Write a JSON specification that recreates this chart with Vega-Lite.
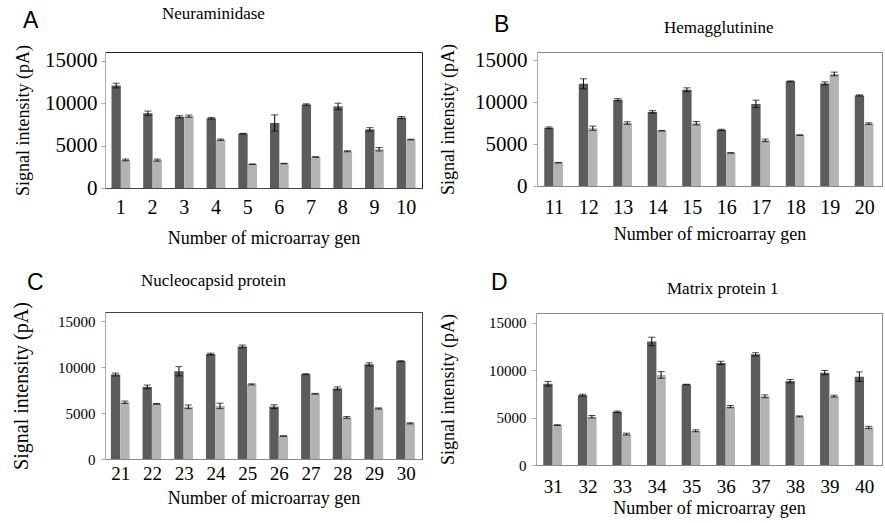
{
  "$schema": "https://vega.github.io/schema/vega-lite/v6.json",
  "background": "white",
  "padding": {"left": 11, "top": 4, "right": 0, "bottom": 0},
  "config": {
    "view": {"strokeWidth": 1},
    "axis": {"labelFont": "Liberation Serif", "titleFont": "Liberation Serif", "titleFontWeight": "normal", "labelColor": "#000", "titleColor": "#000", "grid": false},
    "title": {"font": "Liberation Serif", "fontWeight": "normal", "color": "#000"},
    "bar": {"stroke": null}
  },
  "data": {"values": [
    {"p":"A","g":1,"s":"a","v":12050,"lo":11780,"hi":12320},{"p":"A","g":1,"s":"b","v":3300,"lo":3200,"hi":3400},
    {"p":"A","g":2,"s":"a","v":8800,"lo":8550,"hi":9050},{"p":"A","g":2,"s":"b","v":3280,"lo":3160,"hi":3400},
    {"p":"A","g":3,"s":"a","v":8380,"lo":8250,"hi":8510},{"p":"A","g":3,"s":"b","v":8450,"lo":8320,"hi":8580},
    {"p":"A","g":4,"s":"a","v":8200,"lo":8100,"hi":8300},{"p":"A","g":4,"s":"b","v":5680,"lo":5600,"hi":5760},
    {"p":"A","g":5,"s":"a","v":6400,"lo":6370,"hi":6430},{"p":"A","g":5,"s":"b","v":2800,"lo":2770,"hi":2830},
    {"p":"A","g":6,"s":"a","v":7650,"lo":6700,"hi":8600},{"p":"A","g":6,"s":"b","v":2880,"lo":2850,"hi":2910},
    {"p":"A","g":7,"s":"a","v":9820,"lo":9740,"hi":9900},{"p":"A","g":7,"s":"b","v":3650,"lo":3620,"hi":3680},
    {"p":"A","g":8,"s":"a","v":9600,"lo":9220,"hi":9980},{"p":"A","g":8,"s":"b","v":4320,"lo":4260,"hi":4380},
    {"p":"A","g":9,"s":"a","v":6900,"lo":6700,"hi":7100},{"p":"A","g":9,"s":"b","v":4560,"lo":4360,"hi":4760},
    {"p":"A","g":10,"s":"a","v":8280,"lo":8160,"hi":8400},{"p":"A","g":10,"s":"b","v":5700,"lo":5660,"hi":5740},
    {"p":"B","g":11,"s":"a","v":6950,"lo":6850,"hi":7050},{"p":"B","g":11,"s":"b","v":2780,"lo":2750,"hi":2810},
    {"p":"B","g":12,"s":"a","v":12200,"lo":11600,"hi":12800},{"p":"B","g":12,"s":"b","v":6900,"lo":6650,"hi":7150},
    {"p":"B","g":13,"s":"a","v":10300,"lo":10170,"hi":10430},{"p":"B","g":13,"s":"b","v":7520,"lo":7370,"hi":7670},
    {"p":"B","g":14,"s":"a","v":8850,"lo":8700,"hi":9000},{"p":"B","g":14,"s":"b","v":6600,"lo":6560,"hi":6640},
    {"p":"B","g":15,"s":"a","v":11500,"lo":11280,"hi":11720},{"p":"B","g":15,"s":"b","v":7500,"lo":7300,"hi":7700},
    {"p":"B","g":16,"s":"a","v":6700,"lo":6620,"hi":6780},{"p":"B","g":16,"s":"b","v":3950,"lo":3920,"hi":3980},
    {"p":"B","g":17,"s":"a","v":9800,"lo":9350,"hi":10250},{"p":"B","g":17,"s":"b","v":5450,"lo":5300,"hi":5600},
    {"p":"B","g":18,"s":"a","v":12500,"lo":12450,"hi":12550},{"p":"B","g":18,"s":"b","v":6080,"lo":6050,"hi":6110},
    {"p":"B","g":19,"s":"a","v":12250,"lo":12070,"hi":12430},{"p":"B","g":19,"s":"b","v":13380,"lo":13160,"hi":13600},
    {"p":"B","g":20,"s":"a","v":10820,"lo":10760,"hi":10880},{"p":"B","g":20,"s":"b","v":7450,"lo":7350,"hi":7550},
    {"p":"C","g":21,"s":"a","v":9200,"lo":9050,"hi":9350},{"p":"C","g":21,"s":"b","v":6180,"lo":6050,"hi":6310},
    {"p":"C","g":22,"s":"a","v":7850,"lo":7650,"hi":8050},{"p":"C","g":22,"s":"b","v":6000,"lo":5960,"hi":6040},
    {"p":"C","g":23,"s":"a","v":9550,"lo":9050,"hi":10050},{"p":"C","g":23,"s":"b","v":5680,"lo":5480,"hi":5880},
    {"p":"C","g":24,"s":"a","v":11420,"lo":11320,"hi":11520},{"p":"C","g":24,"s":"b","v":5780,"lo":5480,"hi":6080},
    {"p":"C","g":25,"s":"a","v":12250,"lo":12100,"hi":12400},{"p":"C","g":25,"s":"b","v":8120,"lo":8060,"hi":8180},
    {"p":"C","g":26,"s":"a","v":5700,"lo":5500,"hi":5900},{"p":"C","g":26,"s":"b","v":2500,"lo":2470,"hi":2530},
    {"p":"C","g":27,"s":"a","v":9230,"lo":9180,"hi":9280},{"p":"C","g":27,"s":"b","v":7100,"lo":7060,"hi":7140},
    {"p":"C","g":28,"s":"a","v":7680,"lo":7510,"hi":7850},{"p":"C","g":28,"s":"b","v":4520,"lo":4420,"hi":4620},
    {"p":"C","g":29,"s":"a","v":10300,"lo":10130,"hi":10470},{"p":"C","g":29,"s":"b","v":5500,"lo":5440,"hi":5560},
    {"p":"C","g":30,"s":"a","v":10650,"lo":10600,"hi":10700},{"p":"C","g":30,"s":"b","v":3880,"lo":3820,"hi":3940},
    {"p":"D","g":31,"s":"a","v":8550,"lo":8300,"hi":8800},{"p":"D","g":31,"s":"b","v":4200,"lo":4160,"hi":4240},
    {"p":"D","g":32,"s":"a","v":7350,"lo":7250,"hi":7450},{"p":"D","g":32,"s":"b","v":5080,"lo":4950,"hi":5210},
    {"p":"D","g":33,"s":"a","v":5600,"lo":5520,"hi":5680},{"p":"D","g":33,"s":"b","v":3250,"lo":3150,"hi":3350},
    {"p":"D","g":34,"s":"a","v":13000,"lo":12550,"hi":13450},{"p":"D","g":34,"s":"b","v":9480,"lo":9130,"hi":9830},
    {"p":"D","g":35,"s":"a","v":8470,"lo":8440,"hi":8500},{"p":"D","g":35,"s":"b","v":3600,"lo":3500,"hi":3700},
    {"p":"D","g":36,"s":"a","v":10750,"lo":10580,"hi":10920},{"p":"D","g":36,"s":"b","v":6150,"lo":6030,"hi":6270},
    {"p":"D","g":37,"s":"a","v":11650,"lo":11480,"hi":11820},{"p":"D","g":37,"s":"b","v":7230,"lo":7080,"hi":7380},
    {"p":"D","g":38,"s":"a","v":8830,"lo":8650,"hi":9010},{"p":"D","g":38,"s":"b","v":5120,"lo":5070,"hi":5170},
    {"p":"D","g":39,"s":"a","v":9720,"lo":9490,"hi":9950},{"p":"D","g":39,"s":"b","v":7250,"lo":7150,"hi":7350},
    {"p":"D","g":40,"s":"a","v":9300,"lo":8800,"hi":9800},{"p":"D","g":40,"s":"b","v":3950,"lo":3830,"hi":4070}
  ]},
  "columns": 2,
  "align": "none",
  "spacing": {"row": 23, "column": 16},
  "concat": [
      {"title": {"text": "A", "anchor": "start", "frame": "bounds", "font": "Liberation Sans", "fontSize": 23, "dx": 9, "dy": 33},
       "vconcat": [{
        "width": 317, "height": 136,
        "title": {"text": "Neuraminidase", "anchor": "start", "frame": "group", "fontSize": 17, "dx": 57, "offset": 22},
        "view": {"stroke": "#222"},
        "transform": [{"filter": "datum.p == 'A'"}],
        "encoding": {
          "x": {"field": "g", "type": "ordinal", "scale": {"paddingInner": 0.41, "paddingOuter": 0.205}, "axis": {"title": "Number of microarray gen", "labelAngle": 0, "labelFontSize": 20, "titleFontSize": 18, "ticks": false, "labelPadding": 9, "titlePadding": 12, "domainColor": "#444"}},
          "xOffset": {"field": "s", "scale": {"paddingInner": 0, "paddingOuter": 0}}
        },
        "layer": [
          {"mark": {"type": "bar"}, "encoding": {"y": {"field": "v", "type": "quantitative", "scale": {"domain": [0, 15000]}, "axis": {"title": "Signal intensity (pA)", "values": [0, 5000, 10000, 15000], "format": "d", "labelFont": "Liberation Serif", "titleFont": "Liberation Serif", "labelFontSize": 21, "titleFontSize": 18, "tickSize": 4, "labelPadding": 4, "titlePadding": 12, "domainColor": "#aaa", "tickColor": "#aaa"}}, "color": {"field": "s", "scale": {"domain": ["a", "b"], "range": ["#5c5c5c", "#b3b3b3"]}, "legend": null}}},
          {"mark": {"type": "rule", "color": "#000", "strokeWidth": 1}, "encoding": {"y": {"field": "lo", "type": "quantitative", "axis": {"title": "Signal intensity (pA)", "values": [0, 5000, 10000, 15000], "format": "d", "labelFont": "Liberation Serif", "titleFont": "Liberation Serif", "labelFontSize": 21, "titleFontSize": 18, "tickSize": 4, "labelPadding": 4, "titlePadding": 12, "domainColor": "#aaa", "tickColor": "#aaa"}}, "y2": {"field": "hi"}}},
          {"mark": {"type": "tick", "color": "#000", "thickness": 1, "size": 7}, "encoding": {"y": {"field": "lo", "type": "quantitative", "axis": {"title": "Signal intensity (pA)", "values": [0, 5000, 10000, 15000], "format": "d", "labelFont": "Liberation Serif", "titleFont": "Liberation Serif", "labelFontSize": 21, "titleFontSize": 18, "tickSize": 4, "labelPadding": 4, "titlePadding": 12, "domainColor": "#aaa", "tickColor": "#aaa"}}}},
          {"mark": {"type": "tick", "color": "#000", "thickness": 1, "size": 7}, "encoding": {"y": {"field": "hi", "type": "quantitative", "axis": {"title": "Signal intensity (pA)", "values": [0, 5000, 10000, 15000], "format": "d", "labelFont": "Liberation Serif", "titleFont": "Liberation Serif", "labelFontSize": 21, "titleFontSize": 18, "tickSize": 4, "labelPadding": 4, "titlePadding": 12, "domainColor": "#aaa", "tickColor": "#aaa"}}}}
        ]
      }]},
      {"title": {"text": [" ", "B"], "lineHeight": 6, "anchor": "start", "frame": "bounds", "font": "Liberation Sans", "fontSize": 23, "dx": 55, "dy": 23},
       "vconcat": [{
        "width": 345, "height": 134,
        "title": {"text": "Hemagglutinine", "anchor": "start", "frame": "group", "fontSize": 17, "dx": 127, "offset": 7},
        "view": {"stroke": "#888"},
        "transform": [{"filter": "datum.p == 'B'"}],
        "encoding": {
          "x": {"field": "g", "type": "ordinal", "scale": {"paddingInner": 0.42, "paddingOuter": 0.21}, "axis": {"title": "Number of microarray gen", "labelAngle": 0, "labelFontSize": 20, "titleFontSize": 18, "ticks": false, "labelPadding": 11, "titlePadding": 8, "domainColor": "#888"}},
          "xOffset": {"field": "s", "scale": {"paddingInner": 0, "paddingOuter": 0}}
        },
        "layer": [
          {"mark": {"type": "bar"}, "encoding": {"y": {"field": "v", "type": "quantitative", "scale": {"domain": [0, 15000]}, "axis": {"title": "Signal intensity (pA)", "values": [0, 5000, 10000, 15000], "format": "d", "labelFont": "Liberation Serif", "titleFont": "Liberation Serif", "labelFontSize": 21, "titleFontSize": 18, "tickSize": 4, "labelPadding": 6, "titlePadding": 17, "domainColor": "#aaa", "tickColor": "#aaa"}}, "color": {"field": "s", "scale": {"domain": ["a", "b"], "range": ["#5c5c5c", "#b3b3b3"]}, "legend": null}}},
          {"mark": {"type": "rule", "color": "#000", "strokeWidth": 1}, "encoding": {"y": {"field": "lo", "type": "quantitative", "axis": {"title": "Signal intensity (pA)", "values": [0, 5000, 10000, 15000], "format": "d", "labelFont": "Liberation Serif", "titleFont": "Liberation Serif", "labelFontSize": 21, "titleFontSize": 18, "tickSize": 4, "labelPadding": 6, "titlePadding": 17, "domainColor": "#aaa", "tickColor": "#aaa"}}, "y2": {"field": "hi"}}},
          {"mark": {"type": "tick", "color": "#000", "thickness": 1, "size": 7}, "encoding": {"y": {"field": "lo", "type": "quantitative", "axis": {"title": "Signal intensity (pA)", "values": [0, 5000, 10000, 15000], "format": "d", "labelFont": "Liberation Serif", "titleFont": "Liberation Serif", "labelFontSize": 21, "titleFontSize": 18, "tickSize": 4, "labelPadding": 6, "titlePadding": 17, "domainColor": "#aaa", "tickColor": "#aaa"}}}},
          {"mark": {"type": "tick", "color": "#000", "thickness": 1, "size": 7}, "encoding": {"y": {"field": "hi", "type": "quantitative", "axis": {"title": "Signal intensity (pA)", "values": [0, 5000, 10000, 15000], "format": "d", "labelFont": "Liberation Serif", "titleFont": "Liberation Serif", "labelFontSize": 21, "titleFontSize": 18, "tickSize": 4, "labelPadding": 6, "titlePadding": 17, "domainColor": "#aaa", "tickColor": "#aaa"}}}}
        ]
      }]},
      {"title": {"text": "C", "anchor": "start", "frame": "bounds", "font": "Liberation Sans", "fontSize": 23, "dx": 16, "dy": 28},
       "vconcat": [{
        "width": 317, "height": 147,
        "title": {"text": "Nucleocapsid protein", "anchor": "start", "frame": "group", "fontSize": 17, "dx": 36, "offset": 12},
        "view": {"stroke": "#444"},
        "transform": [{"filter": "datum.p == 'C'"}],
        "encoding": {
          "x": {"field": "g", "type": "ordinal", "scale": {"paddingInner": 0.37, "paddingOuter": 0.185}, "axis": {"title": "Number of microarray gen", "labelAngle": 0, "labelFontSize": 19, "titleFontSize": 18, "ticks": false, "labelPadding": 5, "titlePadding": 6, "domainColor": "#888"}},
          "xOffset": {"field": "s", "scale": {"paddingInner": 0, "paddingOuter": 0}}
        },
        "layer": [
          {"mark": {"type": "bar"}, "encoding": {"y": {"field": "v", "type": "quantitative", "scale": {"domain": [0, 15000]}, "axis": {"title": "Signal intensity (pA)", "values": [0, 5000, 10000, 15000], "format": "d", "labelFont": "Liberation Serif", "titleFont": "Liberation Serif", "labelFontSize": 15, "titleFontSize": 20, "tickSize": 4, "labelPadding": 6, "titlePadding": 26, "domainColor": "#aaa", "tickColor": "#aaa"}}, "color": {"field": "s", "scale": {"domain": ["a", "b"], "range": ["#5c5c5c", "#b3b3b3"]}, "legend": null}}},
          {"mark": {"type": "rule", "color": "#000", "strokeWidth": 1}, "encoding": {"y": {"field": "lo", "type": "quantitative", "axis": {"title": "Signal intensity (pA)", "values": [0, 5000, 10000, 15000], "format": "d", "labelFont": "Liberation Serif", "titleFont": "Liberation Serif", "labelFontSize": 15, "titleFontSize": 20, "tickSize": 4, "labelPadding": 6, "titlePadding": 26, "domainColor": "#aaa", "tickColor": "#aaa"}}, "y2": {"field": "hi"}}},
          {"mark": {"type": "tick", "color": "#000", "thickness": 1, "size": 7}, "encoding": {"y": {"field": "lo", "type": "quantitative", "axis": {"title": "Signal intensity (pA)", "values": [0, 5000, 10000, 15000], "format": "d", "labelFont": "Liberation Serif", "titleFont": "Liberation Serif", "labelFontSize": 15, "titleFontSize": 20, "tickSize": 4, "labelPadding": 6, "titlePadding": 26, "domainColor": "#aaa", "tickColor": "#aaa"}}}},
          {"mark": {"type": "tick", "color": "#000", "thickness": 1, "size": 7}, "encoding": {"y": {"field": "hi", "type": "quantitative", "axis": {"title": "Signal intensity (pA)", "values": [0, 5000, 10000, 15000], "format": "d", "labelFont": "Liberation Serif", "titleFont": "Liberation Serif", "labelFontSize": 15, "titleFontSize": 20, "tickSize": 4, "labelPadding": 6, "titlePadding": 26, "domainColor": "#aaa", "tickColor": "#aaa"}}}}
        ]
      }]},
      {"title": {"text": "D", "anchor": "start", "frame": "bounds", "font": "Liberation Sans", "fontSize": 23, "dx": 52, "dy": 19},
       "vconcat": [{
        "width": 346, "height": 152,
        "title": {"text": "Matrix protein 1", "anchor": "start", "frame": "group", "fontSize": 17, "dx": 131, "offset": 15},
        "view": {"stroke": "#888"},
        "transform": [{"filter": "datum.p == 'D'"}],
        "encoding": {
          "x": {"field": "g", "type": "ordinal", "scale": {"paddingInner": 0.42, "paddingOuter": 0.21}, "axis": {"title": "Number of microarray gen", "labelAngle": 0, "labelFontSize": 19, "titleFontSize": 18, "ticks": false, "labelPadding": 12, "titlePadding": 3, "domainColor": "#888"}},
          "xOffset": {"field": "s", "scale": {"paddingInner": 0, "paddingOuter": 0}}
        },
        "layer": [
          {"mark": {"type": "bar"}, "encoding": {"y": {"field": "v", "type": "quantitative", "scale": {"domain": [0, 15000]}, "axis": {"title": "Signal intensity (pA)", "values": [0, 5000, 10000, 15000], "format": "d", "labelFont": "Liberation Serif", "titleFont": "Liberation Serif", "labelFontSize": 15, "titleFontSize": 18, "tickSize": 4, "labelPadding": 6, "titlePadding": 31, "domainColor": "#aaa", "tickColor": "#aaa"}}, "color": {"field": "s", "scale": {"domain": ["a", "b"], "range": ["#5c5c5c", "#b3b3b3"]}, "legend": null}}},
          {"mark": {"type": "rule", "color": "#000", "strokeWidth": 1}, "encoding": {"y": {"field": "lo", "type": "quantitative", "axis": {"title": "Signal intensity (pA)", "values": [0, 5000, 10000, 15000], "format": "d", "labelFont": "Liberation Serif", "titleFont": "Liberation Serif", "labelFontSize": 15, "titleFontSize": 18, "tickSize": 4, "labelPadding": 6, "titlePadding": 31, "domainColor": "#aaa", "tickColor": "#aaa"}}, "y2": {"field": "hi"}}},
          {"mark": {"type": "tick", "color": "#000", "thickness": 1, "size": 7}, "encoding": {"y": {"field": "lo", "type": "quantitative", "axis": {"title": "Signal intensity (pA)", "values": [0, 5000, 10000, 15000], "format": "d", "labelFont": "Liberation Serif", "titleFont": "Liberation Serif", "labelFontSize": 15, "titleFontSize": 18, "tickSize": 4, "labelPadding": 6, "titlePadding": 31, "domainColor": "#aaa", "tickColor": "#aaa"}}}},
          {"mark": {"type": "tick", "color": "#000", "thickness": 1, "size": 7}, "encoding": {"y": {"field": "hi", "type": "quantitative", "axis": {"title": "Signal intensity (pA)", "values": [0, 5000, 10000, 15000], "format": "d", "labelFont": "Liberation Serif", "titleFont": "Liberation Serif", "labelFontSize": 15, "titleFontSize": 18, "tickSize": 4, "labelPadding": 6, "titlePadding": 31, "domainColor": "#aaa", "tickColor": "#aaa"}}}}
        ]
      }]}
  ]
}
